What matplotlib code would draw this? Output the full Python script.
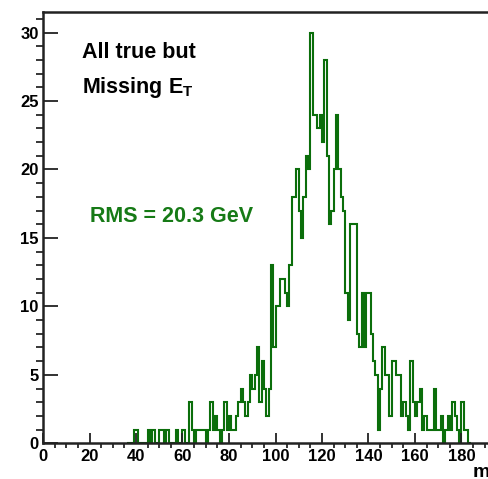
import numpy as np
import matplotlib
matplotlib.use("Agg")
import matplotlib.pyplot as plt
from matplotlib.ticker import MultipleLocator

plt.rcParams['font.family'] = ['Liberation Sans', 'DejaVu Sans']
plt.rcParams['font.weight'] = 'bold'
plt.rcParams['mathtext.fontset'] = 'custom'
plt.rcParams['mathtext.rm'] = 'Liberation Sans:bold'
plt.rcParams['mathtext.bf'] = 'Liberation Sans:bold'

# 1 GeV bins, first bin starts at 36 GeV (everything below is empty)
first_bin = 36
counts = [
    0, 0, 0, 1, 1, 0, 0, 0, 0, 1,          # 36-45
    0, 1, 0, 0, 1, 1, 0, 1, 0, 0,          # 46-55
    0, 1, 0, 0, 1, 0, 0, 3, 1, 0,          # 56-65
    1, 1, 1, 1, 0, 1, 3, 1, 2, 1,          # 66-75
    0, 1, 3, 1, 2, 1, 1, 2, 3, 4,          # 76-85
    3, 2, 3, 5, 4, 5, 7, 3, 6, 4,          # 86-95
    2, 4, 13, 7, 10, 10, 12, 12, 11, 10,   # 96-105
    13, 18, 18, 20, 17, 15, 18, 21, 20, 30,  # 106-115
    24, 24, 23, 24, 22, 28, 21, 16, 17, 20,  # 116-125
    24, 20, 18, 17, 11, 9, 16, 16, 16, 8,    # 126-135
    7, 11, 7, 11, 11, 8, 6, 5, 1, 4,         # 136-145
    7, 5, 5, 2, 6, 6, 5, 5, 2, 3,            # 146-155
    2, 1, 6, 3, 2, 3, 4, 1, 2, 1,            # 156-165
    1, 1, 4, 1, 1, 2, 0, 1, 2, 1,            # 166-175
    3, 2, 1, 0, 3, 1, 1, 0,                  # 176-183
]
edges = np.arange(first_bin, first_bin + len(counts) + 1)

x_range = (0, 200)
y_range = (0, 31.5)
x_labelled = np.arange(0, 181, 20)
line_green = '#0b6e0b'

W, H = 488, 479
fig = plt.figure(figsize=(W / 100, H / 100), dpi=100)
fig.patch.set_facecolor('white')
# right end of the axis runs off the canvas
ax = fig.add_axes([43 / W, (H - 443.3) / H, 465 / W, 431.3 / H])

ax.stairs(counts, edges, color=line_green, linewidth=1.5, baseline=None)

ax.set_xlim(*x_range)
ax.set_ylim(*y_range)

ax.set_xticks(x_labelled)
ax.xaxis.set_minor_locator(MultipleLocator(5))
ax.yaxis.set_major_locator(MultipleLocator(5))
ax.yaxis.set_minor_locator(MultipleLocator(1))
ax.tick_params(axis='both', direction='in', labelsize=12, width=1.3, color='#222222')
ax.tick_params(axis='x', which='major', length=7.5, pad=4)
ax.tick_params(axis='x', which='minor', length=3.5, width=1.1)
ax.tick_params(axis='y', which='major', length=10.5, pad=3)
ax.tick_params(axis='y', which='minor', length=5, width=1.1)
for lab in ax.get_xticklabels() + ax.get_yticklabels():
    lab.set_fontweight('bold')

for side in ('left', 'bottom', 'top'):
    ax.spines[side].set_linewidth(1.8)
    ax.spines[side].set_color('#222222')
ax.spines['right'].set_visible(False)

ax.text(82 / W, 1 - 52 / H, 'All true but', transform=fig.transFigure,
        fontsize=15.5, fontweight='bold', va='center', ha='left')
ax.text(82 / W, 1 - 88 / H, r'Missing E$_\mathrm{T}$', transform=fig.transFigure,
        fontsize=15.5, fontweight='bold', va='center', ha='left')
ax.text(90 / W, 1 - 217 / H, 'RMS = 20.3 GeV', transform=fig.transFigure,
        fontsize=15.5, fontweight='bold', va='center', ha='left', color='#167a16')

# axis title, mostly beyond the right edge
fig.text(473 / W, 1 - 477 / H, 'm', fontsize=14, fontweight='bold',
         ha='left', va='baseline')

fig.savefig('out.png', dpi=100)
